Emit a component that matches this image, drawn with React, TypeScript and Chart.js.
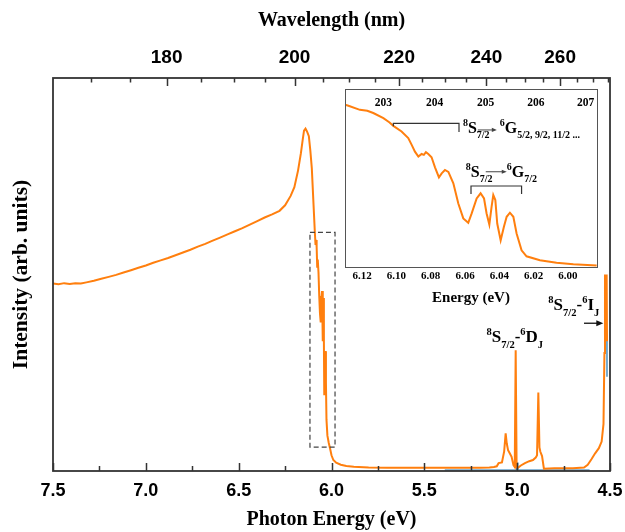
import React, { useEffect, useRef } from 'react';
import { Chart, registerables } from 'chart.js';
Chart.register(...registerables);

const HC = 1239.84;
const ORANGE = '#ff7f0e';
const BLUE = '#1f77b4';

// Main spectrum (photon energy in eV, intensity in arb. units)
const mainEnergy = [7.50, 7.47, 7.44, 7.41, 7.38, 7.35, 7.32, 7.28, 7.24, 7.20, 7.16, 7.12, 7.08, 7.04, 7.00, 6.96, 6.92, 6.88, 6.84, 6.80, 6.76, 6.72, 6.68, 6.64, 6.60, 6.56, 6.52, 6.48, 6.44, 6.40, 6.36, 6.32, 6.28, 6.25, 6.22, 6.20, 6.18, 6.165, 6.155, 6.148, 6.140, 6.132, 6.122, 6.114, 6.106, 6.098, 6.090, 6.086, 6.083, 6.080, 6.077, 6.074, 6.070, 6.066, 6.062, 6.058, 6.054, 6.051, 6.048, 6.046, 6.0435, 6.041, 6.039, 6.036, 6.033, 6.030, 6.027, 6.022, 6.015, 6.008, 6.000, 5.990, 5.975, 5.950, 5.920, 5.880, 5.800, 5.700, 5.600, 5.500, 5.400, 5.300, 5.200, 5.150, 5.125, 5.110, 5.100, 5.082, 5.070, 5.062, 5.056, 5.049, 5.040, 5.030, 5.020, 5.013, 5.008, 5.003, 4.996, 4.980, 4.958, 4.935, 4.915, 4.900, 4.893, 4.886, 4.880, 4.875, 4.866, 4.856, 4.800, 4.700, 4.640, 4.620, 4.600, 4.580, 4.560, 4.545, 4.535, 4.530, 4.527, 4.522, 4.518, 4.516];
const mainIntensity = [0.477, 0.475, 0.478, 0.476, 0.478, 0.477, 0.480, 0.484, 0.489, 0.494, 0.499, 0.505, 0.511, 0.517, 0.523, 0.530, 0.536, 0.542, 0.549, 0.556, 0.563, 0.571, 0.578, 0.586, 0.594, 0.602, 0.610, 0.618, 0.627, 0.636, 0.645, 0.653, 0.662, 0.676, 0.700, 0.722, 0.765, 0.808, 0.843, 0.866, 0.871, 0.864, 0.852, 0.815, 0.770, 0.690, 0.610, 0.575, 0.588, 0.570, 0.520, 0.538, 0.505, 0.445, 0.400, 0.378, 0.440, 0.458, 0.420, 0.330, 0.440, 0.330, 0.195, 0.290, 0.305, 0.225, 0.130, 0.090, 0.072, 0.058, 0.040, 0.028, 0.021, 0.016, 0.013, 0.011, 0.009, 0.008, 0.008, 0.008, 0.008, 0.008, 0.008, 0.009, 0.010, 0.012, 0.020, 0.022, 0.050, 0.096, 0.070, 0.053, 0.045, 0.036, 0.015, 0.010, 0.307, 0.010, 0.008, 0.014, 0.020, 0.025, 0.028, 0.034, 0.040, 0.200, 0.060, 0.049, 0.038, 0.006, 0.007, 0.007, 0.009, 0.016, 0.030, 0.045, 0.058, 0.075, 0.120, 0.300, 0.500, 0.480, 0.500, 0.330];

// Second (blue) trace, mostly hidden behind the orange one
const blueEnergy = [5.39, 5.20, 5.003, 5.000, 4.997, 4.800, 4.610, 4.5168, 4.5165, 4.5162];
const blueIntensity = [0.0025, 0.0025, 0.0025, 0.022, 0.0025, 0.0025, 0.0025, null, 0.335, 0.24];

// Inset: zoom of the 8S7/2 -> 6G region
const insetEnergy = [6.130, 6.128, 6.1213, 6.1170, 6.1135, 6.1076, 6.1040, 6.1018, 6.097, 6.0931, 6.0911, 6.0892, 6.0872, 6.0853, 6.0840, 6.0828, 6.0814, 6.0795, 6.0775, 6.0752, 6.0736, 6.0717, 6.0697, 6.0668, 6.0639, 6.061, 6.0581, 6.0561, 6.0532, 6.0509, 6.0489, 6.0474, 6.0458, 6.0445, 6.0435, 6.0423, 6.0412, 6.0392, 6.0373, 6.0357, 6.0338, 6.0318, 6.0299, 6.027, 6.0241, 6.0163, 6.0066, 5.9968, 5.9832];
const insetIntensity = [0.912, 0.906, 0.883, 0.878, 0.865, 0.836, 0.812, 0.793, 0.761, 0.724, 0.686, 0.648, 0.620, 0.635, 0.630, 0.645, 0.635, 0.617, 0.560, 0.504, 0.526, 0.545, 0.534, 0.470, 0.357, 0.273, 0.248, 0.301, 0.385, 0.414, 0.385, 0.301, 0.239, 0.338, 0.404, 0.376, 0.244, 0.150, 0.226, 0.282, 0.305, 0.282, 0.188, 0.094, 0.060, 0.038, 0.024, 0.015, 0.009];

// Tick definitions
const bottomTickValues = [7.5, 7.0, 6.5, 6.0, 5.5, 5.0, 4.5];
const bottomMinorTicks = [7.25, 6.75, 6.25, 5.75, 5.25, 4.75];
const topTickLabels = [180, 200, 220, 240, 260];
const topMinorWavelengths = [170, 175, 185, 190, 195, 205, 210, 215, 225, 230, 235, 245, 250, 255, 265, 270, 275];
const insetBottomTicks = [6.12, 6.10, 6.08, 6.06, 6.04, 6.02, 6.00];
const insetTopLabels = [203, 204, 205, 206, 207];

// Annotation anchors (data units)
const dashBox = { e1: 6.116, e2: 5.981, v1: 0.607, v2: 0.061 };
const djLabel = { e: 5.165, v: 0.328 };
const ijLabel = { e: 4.832, v: 0.409 };
const ijArrow = { from: 4.640, to: 4.536, v: 0.376 };
const bracket1 = { e1: 6.1018, e2: 6.0635, v: 0.807, vEnd: 0.758 };
const bracket2 = { e1: 6.0565, e2: 6.027, v: 0.455, vEnd: 0.41 };
const text1 = { e: 6.0612, v: 0.753 };
const text2 = { e: 6.0595, v: 0.507 };

const SERIF = '"Liberation Serif", "Times New Roman", serif';
const SANS = '"Liberation Sans", Arial, sans-serif';

type Seg = [string, number];
function drawRich(ctx: CanvasRenderingContext2D, x: number, y: number, segs: Seg[], size: number, small: number) {
  let cx = x;
  for (const [t, k] of segs) {
    const fs = k === 0 ? size : small;
    ctx.font = `bold ${fs}px ${SERIF}`;
    const dy = k === 1 ? -size * 0.42 : k === -1 ? size * 0.33 : 0;
    ctx.fillText(t, cx, y + dy);
    cx += ctx.measureText(t).width;
  }
  return cx;
}

function arrow(ctx: CanvasRenderingContext2D, x1: number, y: number, x2: number, head: number, color: string, lw: number) {
  ctx.strokeStyle = color;
  ctx.fillStyle = color;
  ctx.lineWidth = lw;
  ctx.beginPath();
  ctx.moveTo(x1, y);
  ctx.lineTo(x2 - head + 1, y);
  ctx.stroke();
  ctx.beginPath();
  ctx.moveTo(x2, y);
  ctx.lineTo(x2 - head, y - head * 0.42);
  ctx.lineTo(x2 - head, y + head * 0.42);
  ctx.closePath();
  ctx.fill();
}

const mainDecor = {
  id: 'mainDecor',
  afterDatasetsDraw(chart: any) {
    const { ctx, chartArea: a, scales } = chart;
    const xs = scales.x;
    const ys = scales.y;
    ctx.save();
    // dashed box
    ctx.strokeStyle = '#444';
    ctx.lineWidth = 1.2;
    ctx.setLineDash([5, 3]);
    const bx1 = xs.getPixelForValue(dashBox.e1);
    const bx2 = xs.getPixelForValue(dashBox.e2);
    const by1 = ys.getPixelForValue(dashBox.v1);
    const by2 = ys.getPixelForValue(dashBox.v2);
    ctx.strokeRect(bx1, by1, bx2 - bx1, by2 - by1);
    ctx.setLineDash([]);
    // ticks
    ctx.strokeStyle = '#333';
    ctx.lineWidth = 1.5;
    ctx.beginPath();
    for (const v of bottomTickValues) {
      const px = Math.round(xs.getPixelForValue(v)) + 0.5;
      ctx.moveTo(px, a.bottom);
      ctx.lineTo(px, a.bottom - 8);
    }
    for (const v of bottomMinorTicks) {
      const px = Math.round(xs.getPixelForValue(v)) + 0.5;
      ctx.moveTo(px, a.bottom);
      ctx.lineTo(px, a.bottom - 5);
    }
    for (const l of topTickLabels) {
      const px = Math.round(xs.getPixelForValue(HC / l)) + 0.5;
      ctx.moveTo(px, a.top);
      ctx.lineTo(px, a.top + 8);
    }
    for (const l of topMinorWavelengths) {
      const e = HC / l;
      if (e < 4.5 || e > 7.5) continue;
      const px = Math.round(xs.getPixelForValue(e)) + 0.5;
      ctx.moveTo(px, a.top);
      ctx.lineTo(px, a.top + 4.5);
    }
    ctx.stroke();
    // frame
    ctx.lineWidth = 1.8;
    ctx.strokeRect(a.left, a.top, a.right - a.left, a.bottom - a.top);
    // annotations
    ctx.fillStyle = '#000';
    ctx.textBaseline = 'alphabetic';
    ctx.textAlign = 'left';
    drawRich(ctx, xs.getPixelForValue(djLabel.e), ys.getPixelForValue(djLabel.v),
      [['8', 1], ['S', 0], ['7/2', -1], ['-', 0], ['6', 1], ['D', 0], ['J', -1]], 17, 10.5);
    drawRich(ctx, xs.getPixelForValue(ijLabel.e), ys.getPixelForValue(ijLabel.v),
      [['8', 1], ['S', 0], ['7/2', -1], ['-', 0], ['6', 1], ['I', 0], ['J', -1]], 17, 10.5);
    arrow(ctx, xs.getPixelForValue(ijArrow.from), ys.getPixelForValue(ijArrow.v), xs.getPixelForValue(ijArrow.to), 7, '#111', 1.3);
    ctx.restore();
  },
};

const insetDecor = {
  id: 'insetDecor',
  beforeDraw(chart: any) {
    const { ctx, chartArea: a } = chart;
    ctx.save();
    ctx.fillStyle = '#fff';
    ctx.fillRect(a.left, a.top, a.right - a.left, a.bottom - a.top);
    ctx.restore();
  },
  afterDatasetsDraw(chart: any) {
    const { ctx, chartArea: a, scales } = chart;
    const xs = scales.x;
    const ys = scales.y;
    ctx.save();
    ctx.strokeStyle = '#555';
    ctx.lineWidth = 1;
    ctx.strokeRect(a.left + 0.5, a.top + 0.5, a.right - a.left, a.bottom - a.top);
    // top wavelength labels
    ctx.fillStyle = '#000';
    ctx.font = `bold 11.5px ${SERIF}`;
    ctx.textAlign = 'center';
    ctx.textBaseline = 'middle';
    for (const l of insetTopLabels) {
      ctx.fillText(String(l), xs.getPixelForValue(HC / l), a.top + 14);
    }
    // brackets
    ctx.strokeStyle = '#333';
    ctx.lineWidth = 1.2;
    const b1x1 = xs.getPixelForValue(bracket1.e1), b1x2 = xs.getPixelForValue(bracket1.e2);
    const b1y = ys.getPixelForValue(bracket1.v), b1e = ys.getPixelForValue(bracket1.vEnd);
    ctx.beginPath();
    ctx.moveTo(b1x1, b1y + 3);
    ctx.lineTo(b1x1, b1y);
    ctx.lineTo(b1x2, b1y);
    ctx.lineTo(b1x2, b1e);
    ctx.stroke();
    const b2x1 = xs.getPixelForValue(bracket2.e1), b2x2 = xs.getPixelForValue(bracket2.e2);
    const b2y = ys.getPixelForValue(bracket2.v), b2e = ys.getPixelForValue(bracket2.vEnd);
    ctx.beginPath();
    ctx.moveTo(b2x1, b2e);
    ctx.lineTo(b2x1, b2y);
    ctx.lineTo(b2x2, b2y);
    ctx.lineTo(b2x2, b2e);
    ctx.stroke();
    // transition texts
    ctx.textAlign = 'left';
    ctx.textBaseline = 'alphabetic';
    ctx.fillStyle = '#000';
    let x0 = xs.getPixelForValue(text1.e);
    let y0 = ys.getPixelForValue(text1.v);
    let cx = drawRich(ctx, x0, y0, [['8', 1], ['S', 0]], 16, 10);
    ctx.font = `bold 10px ${SERIF}`;
    ctx.fillText('7/2', cx, y0 + 16 * 0.33);
    arrow(ctx, cx + 1, y0 - 3, cx + 20, 5, '#444', 1);
    ctx.fillStyle = '#000';
    drawRich(ctx, cx + 23, y0, [['6', 1], ['G', 0], ['5/2, 9/2, 11/2 ...', -1]], 16, 10);
    x0 = xs.getPixelForValue(text2.e);
    y0 = ys.getPixelForValue(text2.v);
    cx = drawRich(ctx, x0, y0, [['8', 1], ['S', 0]], 16, 10);
    ctx.font = `bold 10px ${SERIF}`;
    ctx.fillText('7/2', cx, y0 + 16 * 0.33);
    arrow(ctx, cx + 6, y0 - 5, cx + 27, 5, '#444', 1);
    ctx.fillStyle = '#000';
    drawRich(ctx, cx + 27, y0, [['6', 1], ['G', 0], ['7/2', -1]], 16, 10);
    ctx.restore();
  },
};

const noSidePadding = (s: any) => { s.paddingLeft = 0; s.paddingRight = 0; };

export default function App() {
  const mainRef = useRef<HTMLCanvasElement>(null);
  const insetRef = useRef<HTMLCanvasElement>(null);

  useEffect(() => {
    document.body.style.margin = '0';
    const mainData = mainEnergy.map((x, i) => ({ x, y: mainIntensity[i] }));
    const blueData = blueEnergy.map((x, i) => ({ x, y: blueIntensity[i] }));
    const insetData = insetEnergy.map((x, i) => ({ x, y: insetIntensity[i] }));

    const main = new Chart(mainRef.current as HTMLCanvasElement, {
      type: 'scatter',
      data: {
        datasets: [
          { data: mainData, showLine: true, borderColor: ORANGE, borderWidth: 2, pointRadius: 0, tension: 0, xAxisID: 'x', yAxisID: 'y' } as any,
          { data: blueData, showLine: true, borderColor: BLUE, borderWidth: 1.2, pointRadius: 0, tension: 0, spanGaps: false, xAxisID: 'x', yAxisID: 'y' } as any,
        ],
      },
      options: {
        responsive: false,
        animation: false,
        layout: { padding: { right: 15, top: 0, bottom: 0, left: 0 } },
        plugins: { legend: { display: false }, tooltip: { enabled: false } },
        scales: {
          x: {
            type: 'linear', position: 'bottom', min: 4.5, max: 7.5, reverse: true,
            afterBuildTicks: (s: any) => { s.ticks = bottomTickValues.map((v) => ({ value: v })); },
            afterFit: (s: any) => { s.height = 61; noSidePadding(s); },
            ticks: { autoSkip: false, maxRotation: 0, padding: 9, color: '#000', font: { family: SANS, weight: 'bold', size: 18 }, callback: (v: any) => Number(v).toFixed(1) },
            grid: { display: false, drawTicks: false },
            border: { display: false },
            title: { display: true, text: 'Photon Energy (eV)', color: '#000', font: { family: SERIF, weight: 'bold', size: 20 }, padding: { top: 0, bottom: 0 } },
          },
          x2: {
            type: 'linear', position: 'top', min: 4.5, max: 7.5, reverse: true,
            afterBuildTicks: (s: any) => { s.ticks = topTickLabels.map((l) => ({ value: HC / l })); },
            afterFit: (s: any) => { s.height = 78; noSidePadding(s); },
            ticks: { autoSkip: false, maxRotation: 0, padding: 9, color: '#000', font: { family: SANS, weight: 'bold', size: 19 }, callback: (v: any) => String(Math.round(HC / Number(v))) },
            grid: { display: false, drawTicks: false },
            border: { display: false },
            title: { display: true, text: 'Wavelength (nm)', color: '#000', font: { family: SERIF, weight: 'bold', size: 20 }, padding: { top: 9, bottom: 0 } },
          },
          y: {
            type: 'linear', position: 'left', min: 0, max: 1,
            afterFit: (s: any) => { s.width = 53; },
            ticks: { display: false },
            grid: { display: false, drawTicks: false },
            border: { display: false },
            title: { display: true, text: 'Intensity (arb. units)', color: '#000', font: { family: SERIF, weight: 'bold', size: 21.5 }, padding: { top: 9, bottom: 0 } },
          },
        },
      } as any,
      plugins: [mainDecor],
    });

    const inset = new Chart(insetRef.current as HTMLCanvasElement, {
      type: 'scatter',
      data: {
        datasets: [
          { data: insetData, showLine: true, borderColor: ORANGE, borderWidth: 2, pointRadius: 0, tension: 0 } as any,
        ],
      },
      options: {
        responsive: false,
        animation: false,
        layout: { padding: { left: 15, right: 18, top: 4, bottom: 0 } },
        plugins: { legend: { display: false }, tooltip: { enabled: false } },
        scales: {
          x: {
            type: 'linear', position: 'bottom', min: 5.983, max: 6.13, reverse: true,
            afterBuildTicks: (s: any) => { s.ticks = insetBottomTicks.map((v) => ({ value: v })); },
            afterFit: (s: any) => { s.height = 43; noSidePadding(s); },
            ticks: { autoSkip: false, maxRotation: 0, padding: 3, color: '#000', font: { family: SERIF, weight: 'bold', size: 11 }, callback: (v: any) => Number(v).toFixed(2) },
            grid: { display: false, drawTicks: false },
            border: { display: false },
            title: { display: true, text: 'Energy (eV)', color: '#000', font: { family: SERIF, weight: 'bold', size: 15 }, padding: { top: 0, bottom: 3 } },
          },
          y: { type: 'linear', display: false, min: 0, max: 1 },
        },
      } as any,
      plugins: [insetDecor],
    });

    return () => {
      main.destroy();
      inset.destroy();
    };
  }, []);

  return (
    <div style={{ position: 'relative', width: 625, height: 532, background: '#fff' }}>
      <canvas ref={mainRef} width={625} height={532} style={{ position: 'absolute', left: 0, top: 0, width: 625, height: 532 }} />
      <canvas ref={insetRef} width={285} height={225} style={{ position: 'absolute', left: 330, top: 85, width: 285, height: 225 }} />
    </div>
  );
}
